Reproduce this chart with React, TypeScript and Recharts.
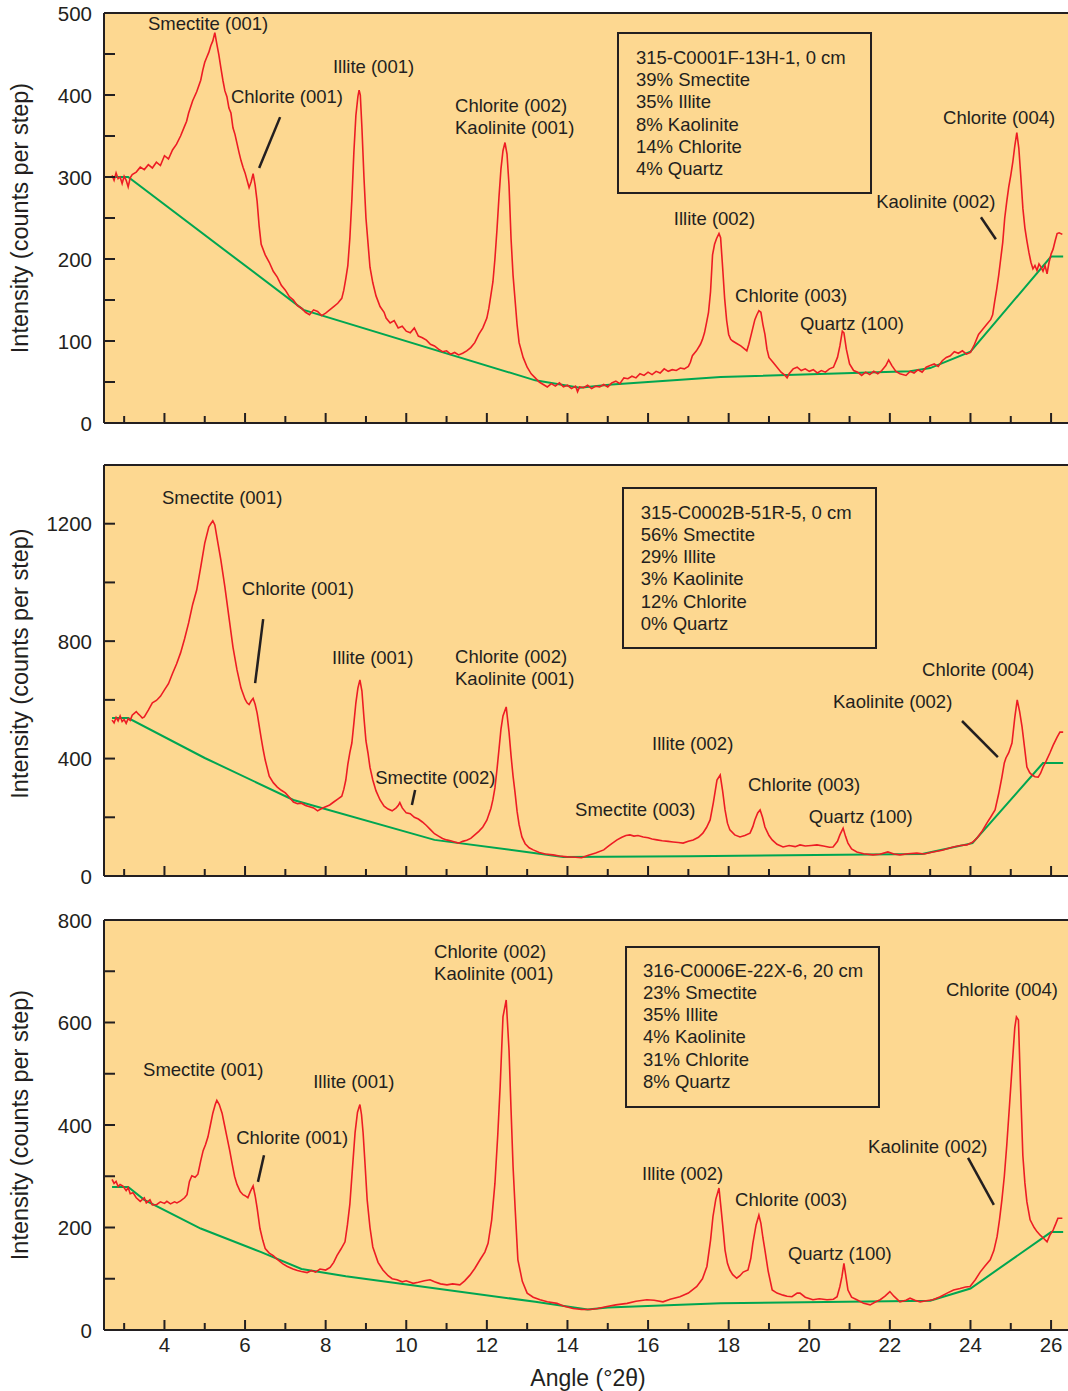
import React from 'react';
import { LineChart, Line, XAxis, YAxis, ReferenceArea, ReferenceLine, ReferenceDot } from 'recharts';

const FONT = '"Liberation Sans", Arial, Helvetica, sans-serif';
const INK = '#231F20';
const BG = '#FDD891';
const RED = '#ED1C24';
const GREEN = '#00A651';

// ---------- shared axis ----------
const angleDomain: [number, number] = [2.5, 26.42];
const angleTicks = [3, 4, 5, 6, 7, 8, 9, 10, 11, 12, 13, 14, 15, 16, 17, 18, 19, 20, 21, 22, 23, 24, 25, 26];
const angleLabels = [4, 6, 8, 10, 12, 14, 16, 18, 20, 22, 24, 26];

// ---------- panel 1: 315-C0001F-13H-1 ----------
const p1Pattern: [number, number][] = [
  [2.70,302],[2.75,296],[2.80,305],[2.85,298],[2.90,300],[2.95,292],[3.00,301],[3.05,296],[3.10,288],[3.15,299],[3.20,303],[3.30,306],[3.40,312],[3.50,309],[3.60,315],[3.70,311],[3.80,318],[3.90,314],[4.00,326],[4.10,322],[4.20,333],[4.30,340],[4.40,350],[4.50,362],[4.55,368],[4.60,378],[4.70,393],[4.80,404],[4.90,418],[4.95,430],[5.00,440],[5.05,446],[5.10,452],[5.15,460],[5.20,466],[5.25,476],[5.30,462],[5.35,449],[5.40,433],[5.45,418],[5.50,405],[5.55,398],[5.60,384],[5.65,378],[5.70,360],[5.75,352],[5.80,341],[5.85,330],[5.90,320],[5.95,312],[6.00,305],[6.05,296],[6.10,287],[6.15,294],[6.20,304],[6.25,290],[6.30,270],[6.35,240],[6.40,218],[6.50,205],[6.60,196],[6.70,185],[6.80,178],[6.90,168],[7.00,162],[7.10,154],[7.20,150],[7.30,143],[7.40,140],[7.50,135],[7.60,132],[7.70,138],[7.80,136],[7.90,131],[8.00,134],[8.10,138],[8.20,142],[8.30,146],[8.40,152],[8.45,162],[8.50,176],[8.55,192],[8.60,225],[8.65,272],[8.70,330],[8.75,375],[8.80,398],[8.83,406],[8.86,400],[8.90,360],[8.95,300],[9.00,250],[9.05,220],[9.10,190],[9.17,171],[9.25,155],[9.35,142],[9.45,135],[9.50,128],[9.60,122],[9.70,125],[9.80,116],[9.90,118],[10.00,112],[10.10,110],[10.20,116],[10.30,106],[10.40,104],[10.50,101],[10.60,96],[10.70,94],[10.80,90],[10.90,87],[11.00,88],[11.10,84],[11.20,86],[11.30,83],[11.40,85],[11.50,88],[11.60,92],[11.70,98],[11.80,108],[11.90,116],[12.00,128],[12.05,140],[12.10,156],[12.15,172],[12.20,200],[12.25,235],[12.30,275],[12.35,310],[12.40,332],[12.45,342],[12.50,328],[12.55,290],[12.60,225],[12.65,180],[12.70,150],[12.75,120],[12.80,98],[12.90,80],[13.00,68],[13.10,60],[13.20,55],[13.30,50],[13.40,47],[13.50,44],[13.60,48],[13.70,45],[13.80,49],[13.90,44],[14.00,46],[14.10,42],[14.20,45],[14.25,38],[14.30,44],[14.40,43],[14.50,46],[14.60,42],[14.70,45],[14.80,44],[14.90,47],[15.00,44],[15.10,49],[15.20,51],[15.30,48],[15.40,55],[15.50,54],[15.60,57],[15.70,55],[15.80,60],[15.90,58],[16.00,62],[16.10,59],[16.20,63],[16.30,61],[16.40,66],[16.50,63],[16.60,65],[16.70,64],[16.80,67],[16.90,66],[17.00,69],[17.05,74],[17.10,82],[17.20,88],[17.30,96],[17.35,102],[17.40,110],[17.45,122],[17.50,135],[17.55,160],[17.60,205],[17.65,218],[17.70,225],[17.76,231],[17.80,226],[17.85,190],[17.90,152],[17.95,125],[18.00,108],[18.05,102],[18.10,100],[18.20,97],[18.30,94],[18.40,90],[18.45,88],[18.50,96],[18.55,106],[18.60,116],[18.65,126],[18.70,132],[18.75,137],[18.80,135],[18.85,120],[18.90,108],[18.95,90],[19.00,80],[19.10,74],[19.20,68],[19.30,62],[19.40,58],[19.45,55],[19.50,60],[19.60,66],[19.70,68],[19.80,64],[19.90,66],[20.00,63],[20.10,65],[20.20,61],[20.30,64],[20.40,62],[20.50,66],[20.60,68],[20.70,80],[20.76,94],[20.82,112],[20.86,110],[20.92,90],[21.00,72],[21.10,64],[21.20,62],[21.30,58],[21.40,62],[21.50,59],[21.60,63],[21.70,60],[21.80,64],[21.90,70],[21.97,77],[22.05,70],[22.15,63],[22.25,60],[22.40,58],[22.50,63],[22.60,61],[22.70,65],[22.80,62],[22.90,68],[23.00,70],[23.10,72],[23.20,69],[23.30,76],[23.40,80],[23.50,82],[23.60,87],[23.70,85],[23.80,88],[23.90,84],[24.00,86],[24.10,96],[24.20,108],[24.30,114],[24.40,120],[24.50,126],[24.55,132],[24.60,148],[24.65,163],[24.70,180],[24.75,200],[24.80,220],[24.85,250],[24.90,270],[24.95,288],[25.00,302],[25.05,318],[25.10,338],[25.15,354],[25.20,335],[25.25,300],[25.30,262],[25.35,238],[25.40,222],[25.45,208],[25.50,196],[25.55,188],[25.60,192],[25.65,186],[25.70,194],[25.75,190],[25.80,185],[25.85,192],[25.90,182],[25.95,196],[26.00,206],[26.05,212],[26.10,222],[26.15,231],[26.20,232],[26.28,230],
];
const p1Baseline: [number, number][] = [
  [2.7,300],[3.1,300],[7.45,138],[13.2,52],[14.3,43],[15.1,47],[17.8,56],[22.5,63],[23.0,67],[24.0,87],[26.0,203],[26.3,203],
];
const p1Ticks = [0, 50, 100, 150, 200, 250, 300, 350, 400, 450, 500];
const p1TickLabels = [0, 100, 200, 300, 400, 500];
const p1Peaks: [string, number, number][] = [
  ['Smectite (001)', 3.59, 487],
  ['Chlorite (001)', 5.65, 398],
  ['Illite (001)', 8.18, 435],
  ['Chlorite (002)', 11.21, 387],
  ['Kaolinite (001)', 11.21, 360],
  ['Illite (002)', 16.64, 250],
  ['Chlorite (003)', 18.16, 155],
  ['Quartz (100)', 19.77, 121],
  ['Kaolinite (002)', 21.66, 270],
  ['Chlorite (004)', 23.32, 373],
];
const p1Leaders: [number, number, number, number][] = [
  [6.87, 373, 6.35, 311],
  [24.26, 251, 24.63, 224],
];
const p1Box: [number, number, number, number] = [15.254, 21.532, 280.5, 475.6];
const p1BoxLines = ['315-C0001F-13H-1, 0 cm', '39% Smectite', '35% Illite', '8% Kaolinite', '14% Chlorite', '4% Quartz'];
const p1BoxLineAngle = 15.7;
const p1BoxLineCounts = [446.3, 418.9, 391.8, 364.6, 337.0, 309.8];

// ---------- panel 2: 315-C0002B-51R-5 ----------
const p2Pattern: [number, number][] = [
  [2.70,531],[2.75,522],[2.80,540],[2.85,528],[2.90,545],[2.95,526],[3.00,533],[3.05,520],[3.10,536],[3.15,530],[3.20,548],[3.30,560],[3.35,552],[3.40,546],[3.45,538],[3.50,542],[3.60,565],[3.70,590],[3.80,598],[3.90,612],[4.00,634],[4.10,655],[4.20,690],[4.30,722],[4.40,760],[4.50,808],[4.60,862],[4.70,925],[4.80,974],[4.90,1052],[5.00,1134],[5.10,1189],[5.15,1200],[5.20,1210],[5.25,1196],[5.30,1155],[5.40,1076],[5.50,984],[5.60,882],[5.70,780],[5.80,702],[5.90,640],[6.00,602],[6.05,590],[6.10,584],[6.15,596],[6.20,605],[6.25,585],[6.30,555],[6.40,470],[6.45,430],[6.50,395],[6.60,340],[6.70,318],[6.80,303],[6.90,292],[7.00,283],[7.10,268],[7.20,252],[7.30,246],[7.40,248],[7.50,240],[7.60,236],[7.70,232],[7.80,222],[7.90,230],[8.00,236],[8.10,242],[8.20,252],[8.30,262],[8.40,272],[8.45,295],[8.50,327],[8.55,380],[8.60,420],[8.65,453],[8.70,520],[8.75,590],[8.80,640],[8.85,668],[8.90,630],[8.95,540],[9.00,460],[9.05,419],[9.10,370],[9.17,327],[9.25,290],[9.35,259],[9.45,238],[9.55,228],[9.65,222],[9.75,232],[9.80,240],[9.84,250],[9.90,232],[10.00,215],[10.10,212],[10.20,200],[10.30,194],[10.40,184],[10.50,172],[10.60,158],[10.70,144],[10.80,136],[10.90,128],[11.00,123],[11.10,120],[11.20,116],[11.30,112],[11.40,118],[11.50,122],[11.60,128],[11.70,140],[11.80,152],[11.90,167],[12.00,190],[12.10,230],[12.15,260],[12.20,300],[12.25,361],[12.30,430],[12.35,500],[12.40,545],[12.48,576],[12.55,490],[12.60,410],[12.65,340],[12.70,283],[12.75,220],[12.80,175],[12.87,133],[12.95,110],[13.05,96],[13.15,89],[13.30,80],[13.45,75],[13.64,72],[13.80,68],[14.00,65],[14.20,64],[14.35,62],[14.50,70],[14.70,78],[14.90,89],[15.00,100],[15.10,110],[15.23,123],[15.35,132],[15.45,138],[15.55,140],[15.65,136],[15.75,138],[15.88,133],[16.00,130],[16.10,126],[16.22,123],[16.35,120],[16.50,118],[16.62,116],[16.75,114],[16.87,112],[17.00,118],[17.12,123],[17.25,132],[17.36,146],[17.45,165],[17.54,191],[17.62,250],[17.71,327],[17.79,344],[17.85,290],[17.91,225],[17.97,180],[18.03,157],[18.15,140],[18.28,133],[18.40,138],[18.53,146],[18.60,168],[18.65,191],[18.72,215],[18.78,225],[18.84,200],[18.90,167],[19.00,138],[19.08,123],[19.20,108],[19.35,99],[19.50,104],[19.65,100],[19.77,106],[19.90,102],[20.05,104],[20.19,106],[20.35,102],[20.50,98],[20.59,99],[20.70,118],[20.76,140],[20.84,163],[20.90,135],[20.96,112],[21.05,92],[21.18,82],[21.35,76],[21.58,72],[21.75,74],[21.95,82],[22.10,75],[22.25,72],[22.45,76],[22.67,78],[22.85,75],[23.07,82],[23.30,88],[23.57,99],[23.75,104],[23.91,106],[24.05,115],[24.16,129],[24.30,155],[24.41,181],[24.50,200],[24.61,225],[24.70,280],[24.78,337],[24.84,385],[24.88,402],[24.95,420],[25.03,453],[25.10,540],[25.16,600],[25.22,560],[25.28,508],[25.34,440],[25.40,371],[25.47,352],[25.53,344],[25.60,338],[25.68,337],[25.74,350],[25.80,371],[25.88,392],[25.97,419],[26.05,445],[26.15,473],[26.22,490],[26.30,490],
];
const p2Baseline: [number, number][] = [
  [2.7,538],[3.1,538],[5.0,402],[7.2,259],[10.7,123],[13.9,65],[17.0,67],[22.8,75],[24.05,112],[25.8,385],[26.3,385],
];
const p2Ticks = [0, 200, 400, 600, 800, 1000, 1200, 1400];
const p2TickLabels = [0, 400, 800, 1200];
const p2Peaks: [string, number, number][] = [
  ['Smectite (001)', 3.94, 1288],
  ['Chlorite (001)', 5.92, 978],
  ['Illite (001)', 8.16, 743],
  ['Smectite (002)', 9.23, 334],
  ['Chlorite (002)', 11.21, 749],
  ['Kaolinite (001)', 11.21, 674],
  ['Smectite (003)', 14.19, 225],
  ['Illite (002)', 16.1, 450],
  ['Chlorite (003)', 18.48, 313],
  ['Quartz (100)', 19.99, 204],
  ['Kaolinite (002)', 20.59, 596],
  ['Chlorite (004)', 22.8, 705],
];
const p2Leaders: [number, number, number, number][] = [
  [6.45, 875, 6.25, 657],
  [10.22, 293, 10.14, 242],
  [23.79, 528, 24.68, 405],
];
const p2Box: [number, number, number, number] = [15.378, 21.656, 776.6, 1321.5];
const p2BoxLines = ['315-C0002B-51R-5, 0 cm', '56% Smectite', '29% Illite', '3% Kaolinite', '12% Chlorite', '0% Quartz'];
const p2BoxLineAngle = 15.82;
const p2BoxLineCounts = [1239.8, 1163.8, 1087.9, 1011.9, 936, 860];

// ---------- panel 3: 316-C0006E-22X-6 ----------
const p3Pattern: [number, number][] = [
  [2.70,294],[2.75,286],[2.80,290],[2.85,280],[2.90,284],[2.97,281],[3.05,272],[3.10,278],[3.15,266],[3.22,268],[3.30,258],[3.40,251],[3.50,258],[3.55,248],[3.64,254],[3.70,244],[3.81,245],[3.90,250],[4.00,247],[4.06,251],[4.15,246],[4.25,250],[4.31,248],[4.40,252],[4.50,258],[4.56,264],[4.62,290],[4.68,301],[4.76,298],[4.83,304],[4.90,330],[4.96,350],[5.02,362],[5.08,377],[5.14,400],[5.20,423],[5.26,440],[5.30,448],[5.36,440],[5.43,423],[5.49,400],[5.55,377],[5.62,350],[5.68,324],[5.74,300],[5.80,284],[5.88,270],[5.95,264],[6.00,262],[6.07,258],[6.13,270],[6.20,281],[6.25,262],[6.30,238],[6.37,198],[6.44,175],[6.50,159],[6.60,150],[6.70,145],[6.80,138],[6.94,129],[7.05,124],[7.19,119],[7.30,116],[7.40,114],[7.54,112],[7.65,116],[7.75,113],[7.86,119],[8.00,117],[8.11,122],[8.20,132],[8.28,145],[8.38,158],[8.48,172],[8.54,205],[8.60,245],[8.66,310],[8.73,385],[8.79,425],[8.85,440],[8.89,420],[8.93,384],[8.98,320],[9.03,254],[9.10,200],[9.17,162],[9.30,132],[9.42,117],[9.55,106],[9.65,100],[9.77,98],[9.90,94],[10.00,96],[10.17,91],[10.30,93],[10.45,96],[10.59,98],[10.70,94],[10.85,90],[11.01,88],[11.15,90],[11.33,88],[11.45,96],[11.58,107],[11.70,120],[11.83,137],[11.95,152],[12.03,169],[12.12,215],[12.20,286],[12.27,380],[12.33,475],[12.40,611],[12.48,644],[12.55,546],[12.60,430],[12.65,319],[12.70,240],[12.77,137],[12.88,95],[13.00,72],[13.15,64],[13.32,59],[13.50,55],[13.74,52],[13.90,47],[14.14,42],[14.35,40],[14.56,40],[14.75,42],[14.98,46],[15.20,49],[15.48,52],[15.70,56],[15.97,59],[16.15,58],[16.37,55],[16.55,60],[16.79,65],[17.00,72],[17.21,85],[17.35,100],[17.46,124],[17.55,175],[17.61,221],[17.68,255],[17.76,277],[17.82,230],[17.87,190],[17.91,156],[17.97,130],[18.03,117],[18.10,108],[18.20,101],[18.28,106],[18.36,113],[18.48,117],[18.55,140],[18.60,169],[18.68,205],[18.75,224],[18.80,208],[18.85,180],[18.90,156],[18.98,115],[19.08,78],[19.20,72],[19.35,68],[19.45,66],[19.57,65],[19.70,72],[19.77,72],[19.90,64],[20.09,59],[20.25,61],[20.44,59],[20.60,60],[20.69,65],[20.76,85],[20.81,104],[20.86,130],[20.91,104],[20.96,78],[21.05,64],[21.18,59],[21.35,52],[21.51,49],[21.65,55],[21.76,59],[21.88,66],[22.00,75],[22.10,66],[22.25,55],[22.40,58],[22.50,62],[22.62,58],[22.75,55],[22.90,57],[23.07,59],[23.25,65],[23.42,72],[23.58,78],[23.74,81],[23.88,84],[23.99,85],[24.12,98],[24.24,113],[24.35,124],[24.49,137],[24.58,155],[24.66,182],[24.72,215],[24.78,254],[24.84,300],[24.90,360],[24.97,440],[25.03,510],[25.10,590],[25.14,611],[25.19,605],[25.24,480],[25.30,340],[25.35,287],[25.40,250],[25.48,215],[25.58,200],[25.65,192],[25.73,185],[25.80,180],[25.90,172],[25.97,185],[26.05,195],[26.12,208],[26.17,218],[26.28,218],
];
const p3Baseline: [number, number][] = [
  [2.7,279],[3.1,279],[3.5,254],[4.9,198],[6.4,152],[7.4,119],[8.5,105],[13.2,55],[14.5,40],[15.0,44],[17.8,52],[23.0,57],[24.0,81],[26.0,191],[26.3,191],
];
const p3Ticks = [0, 100, 200, 300, 400, 500, 600, 700, 800];
const p3TickLabels = [0, 200, 400, 600, 800];
const p3Peaks: [string, number, number][] = [
  ['Smectite (001)', 3.47, 509],
  ['Chlorite (001)', 5.78, 375],
  ['Illite (001)', 7.69, 484],
  ['Chlorite (002)', 10.69, 738],
  ['Kaolinite (001)', 10.69, 695],
  ['Illite (002)', 15.85, 306],
  ['Chlorite (003)', 18.16, 254],
  ['Quartz (100)', 19.47, 150],
  ['Kaolinite (002)', 21.46, 359],
  ['Chlorite (004)', 23.39, 665],
];
const p3Leaders: [number, number, number, number][] = [
  [6.47, 341, 6.32, 289],
  [23.94, 336, 24.58, 244],
];
const p3Box: [number, number, number, number] = [15.453, 21.73, 435.1, 747.2];
const p3BoxLines = ['316-C0006E-22X-6, 20 cm', '23% Smectite', '35% Illite', '4% Kaolinite', '31% Chlorite', '8% Quartz'];
const p3BoxLineAngle = 15.875;
const p3BoxLineCounts = [702.4, 658.9, 615.4, 571.8, 528.3, 484.8];

const toRows = (pts: [number, number][]) => pts.map(([a, v]) => ({ a, v }));

const textLabel = (text: string, size: number) => (props: any) => {
  const vb = props.viewBox || {};
  const x = (vb.x ?? props.x ?? 0) + (vb.width || 0) / 2;
  const y = (vb.y ?? props.y ?? 0) + (vb.height || 0) / 2;
  return (
    <text x={x} y={y} textAnchor="start" dominantBaseline="central" fontSize={size} fontFamily={FONT} fill={INK}>
      {text}
    </text>
  );
};

const xTick = (showLabels: boolean) => (props: any) => {
  const { x, y, payload } = props;
  const v = payload.value;
  const major = angleLabels.includes(v);
  return (
    <g>
      <line x1={x} x2={x} y1={y} y2={y - (major ? 10 : 7)} stroke={INK} strokeWidth={2} />
      {showLabels && major && (
        <text x={x} y={y + 22} textAnchor="middle" fontSize={20.5} fontFamily={FONT} fill={INK}>
          {v}
        </text>
      )}
    </g>
  );
};

const yTick = (labels: number[]) => (props: any) => {
  const { x, y, payload } = props;
  const v = payload.value;
  return (
    <g>
      <line x1={x} x2={x + 11} y1={y} y2={y} stroke={INK} strokeWidth={2} />
      {labels.includes(v) && (
        <text x={x - 12} y={y} textAnchor="end" dominantBaseline="central" fontSize={20.5} fontFamily={FONT} fill={INK}>
          {v}
        </text>
      )}
    </g>
  );
};

const yTitle = (shift: number) => (props: any) => {
  const vb = props.viewBox || {};
  const cx = 28;
  const cy = (vb.y || 0) + (vb.height || 0) / 2 + shift;
  return (
    <text x={cx} y={cy} transform={`rotate(-90 ${cx} ${cy})`} textAnchor="middle" fontSize={23.5} fontFamily={FONT} fill={INK}>
      Intensity (counts per step)
    </text>
  );
};

const xTitle = (props: any) => {
  const vb = props.viewBox || {};
  const cx = (vb.x || 0) + (vb.width || 0) / 2 + 2;
  const cy = (vb.y || 0) + 56;
  return (
    <text x={cx} y={cy} textAnchor="middle" fontSize={23} fontFamily={FONT} fill={INK}>
      Angle (°2θ)
    </text>
  );
};

type PanelCfg = {
  pattern: [number, number][];
  baseline: [number, number][];
  yMax: number;
  ticks: number[];
  tickLabels: number[];
  peaks: [string, number, number][];
  leaders: [number, number, number, number][];
  box: [number, number, number, number];
  boxLines: string[];
  boxLineAngle: number;
  boxLineCounts: number[];
  height: number;
  bottom: number;
  showX: boolean;
  titleShift: number;
};

function Panel(cfg: PanelCfg) {
  const patternRows = toRows(cfg.pattern);
  const baseRows = toRows(cfg.baseline);
  return (
    <LineChart width={1068} height={cfg.height} margin={{ top: 13, right: 0, bottom: cfg.bottom, left: 0 }}>
      <XAxis
        type="number"
        dataKey="a"
        domain={angleDomain}
        ticks={angleTicks}
        interval={0}
        allowDataOverflow
        height={1}
        tickSize={0}
        tickMargin={0}
        tickLine={false}
        axisLine={{ stroke: INK, strokeWidth: 2 }}
        tick={xTick(cfg.showX)}
        label={cfg.showX ? xTitle : undefined}
      />
      <YAxis
        type="number"
        dataKey="v"
        domain={[0, cfg.yMax]}
        ticks={cfg.ticks}
        interval={0}
        allowDataOverflow
        width={104}
        tickSize={0}
        tickMargin={0}
        tickLine={false}
        axisLine={{ stroke: INK, strokeWidth: 2 }}
        tick={yTick(cfg.tickLabels)}
        label={yTitle(cfg.titleShift)}
      />
      <ReferenceArea x1={angleDomain[0]} x2={angleDomain[1]} y1={0} y2={cfg.yMax} fill={BG} fillOpacity={1} stroke="none" ifOverflow="visible" />
      <ReferenceLine y={cfg.yMax} stroke={INK} strokeWidth={2} ifOverflow="visible" />
      <Line data={baseRows} dataKey="v" type="linear" stroke={GREEN} strokeWidth={2} dot={false} isAnimationActive={false} />
      <Line data={patternRows} dataKey="v" type="linear" stroke={RED} strokeWidth={1.6} dot={false} isAnimationActive={false} />
      <ReferenceArea
        x1={cfg.box[0]}
        x2={cfg.box[1]}
        y1={cfg.box[2]}
        y2={cfg.box[3]}
        fill="none"
        fillOpacity={0}
        stroke={INK}
        strokeWidth={2}
        ifOverflow="visible"
      />
      {cfg.leaders.map((l, i) => (
        <ReferenceLine
          key={`ld${i}`}
          segment={[{ x: l[0], y: l[1] }, { x: l[2], y: l[3] }]}
          stroke={INK}
          strokeWidth={2.5}
          ifOverflow="visible"
        />
      ))}
      {cfg.peaks.map((p, i) => (
        <ReferenceDot key={`pk${i}`} x={p[1]} y={p[2]} r={0} fill="none" stroke="none" ifOverflow="visible" label={textLabel(p[0], 18.5)} />
      ))}
      {cfg.boxLines.map((t, i) => (
        <ReferenceDot
          key={`bx${i}`}
          x={cfg.boxLineAngle}
          y={cfg.boxLineCounts[i]}
          r={0}
          fill="none"
          stroke="none"
          ifOverflow="visible"
          label={textLabel(t, 18.5)}
        />
      ))}
    </LineChart>
  );
}

export default function App() {
  return (
    <div style={{ position: 'fixed', left: 0, top: 0, width: 1068, height: 1391, fontFamily: FONT, background: '#fff' }}>
      <div style={{ position: 'absolute', left: 0, top: 0 }}>
        <Panel
          pattern={p1Pattern}
          baseline={p1Baseline}
          yMax={500}
          ticks={p1Ticks}
          tickLabels={p1TickLabels}
          peaks={p1Peaks}
          leaders={p1Leaders}
          box={p1Box}
          boxLines={p1BoxLines}
          boxLineAngle={p1BoxLineAngle}
          boxLineCounts={p1BoxLineCounts}
          height={437}
          bottom={13}
          showX={false}
          titleShift={0}
        />
      </div>
      <div style={{ position: 'absolute', left: 0, top: 452 }}>
        <Panel
          pattern={p2Pattern}
          baseline={p2Baseline}
          yMax={1400}
          ticks={p2Ticks}
          tickLabels={p2TickLabels}
          peaks={p2Peaks}
          leaders={p2Leaders}
          box={p2Box}
          boxLines={p2BoxLines}
          boxLineAngle={p2BoxLineAngle}
          boxLineCounts={p2BoxLineCounts}
          height={438}
          bottom={13}
          showX={false}
          titleShift={-7}
        />
      </div>
      <div style={{ position: 'absolute', left: 0, top: 907 }}>
        <Panel
          pattern={p3Pattern}
          baseline={p3Baseline}
          yMax={800}
          ticks={p3Ticks}
          tickLabels={p3TickLabels}
          peaks={p3Peaks}
          leaders={p3Leaders}
          box={p3Box}
          boxLines={p3BoxLines}
          boxLineAngle={p3BoxLineAngle}
          boxLineCounts={p3BoxLineCounts}
          height={484}
          bottom={60}
          showX={true}
          titleShift={0}
        />
      </div>
    </div>
  );
}
